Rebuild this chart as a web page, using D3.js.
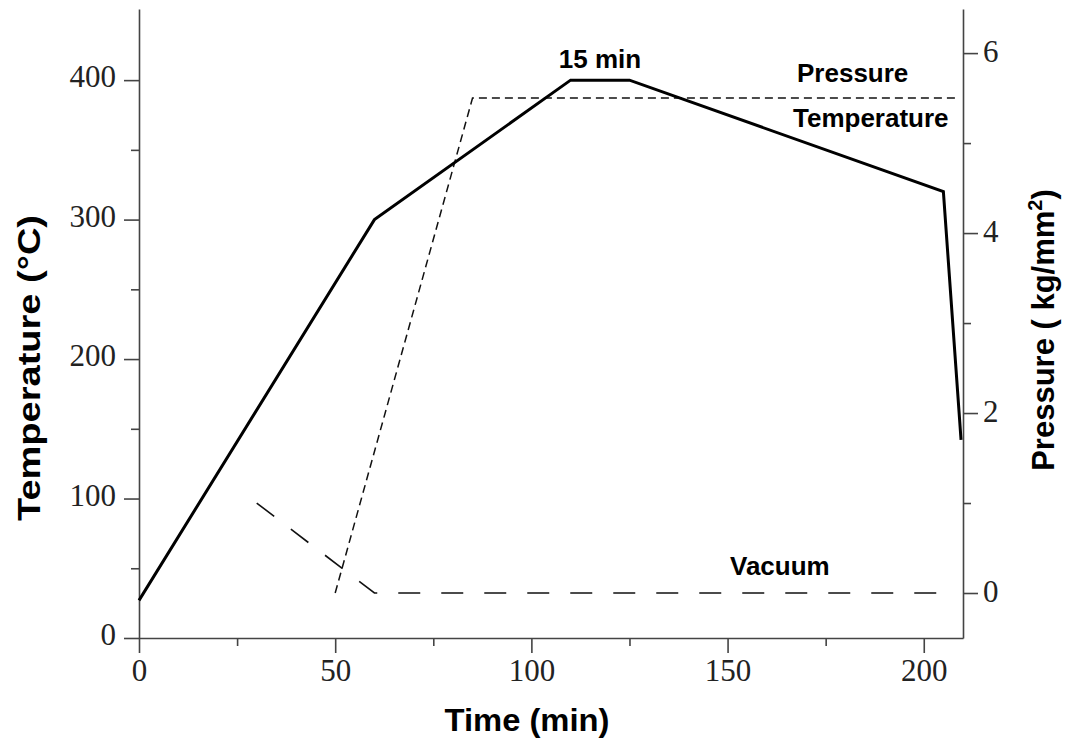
<!DOCTYPE html>
<html>
<head>
<meta charset="utf-8">
<script src="https://cdn.jsdelivr.net/npm/d3@7"></script>
<style>
  body { margin: 0; background: #fff; }
  svg { display: block; }
</style>
</head>
<body>
<svg id="chart" width="1065" height="744"></svg>
<script>
// ---- data ----
const tempTime = [0, 60, 110, 125, 205, 209.5];
const tempValue = [27, 300, 400, 400, 320, 142];
const pressTime = [50, 85, 208];
const pressValue = [0, 5.5, 5.5];
const vacTime = [30, 60, 208];
const vacValue = [1.0, 0, 0];
const xMajorTicks = [0, 50, 100, 150, 200];
const xMinorTicks = [25, 75, 125, 175];
const yMajorTicks = [0, 100, 200, 300, 400];
const yMinorTicks = [50, 150, 250, 350];
const pMajorTicks = [0, 2, 4, 6];
const pMinorTicks = [1, 3, 5];

const svg = d3.select("#chart");
const L = 139, R = 963, T = 9, B = 638;

const x = d3.scaleLinear().domain([0, 210]).range([L, R]);
const yT = d3.scaleLinear().domain([0, 451]).range([B, T]);
const yP = d3.scaleLinear().domain([-0.5, 6.49]).range([B, T]);

const axisColor = "#444";
const serif = "'Liberation Serif', 'DejaVu Serif', serif";
const sans = "'Liberation Sans', Arial, sans-serif";
const fmt = d3.format("d");

function styleAxis(g) {
  g.selectAll("path.domain").attr("stroke", axisColor).attr("stroke-width", 1.6);
  g.selectAll(".tick line").attr("stroke", axisColor).attr("stroke-width", 1.6);
  g.selectAll(".tick text").attr("font-family", serif).attr("font-size", 31).attr("fill", "#222");
}

// bottom axis
const gx = svg.append("g").attr("transform", `translate(0,${B})`)
  .call(d3.axisBottom(x).tickValues(xMajorTicks).tickFormat(fmt).tickSize(15).tickSizeOuter(0).tickPadding(6));
styleAxis(gx);
const gxm = svg.append("g").attr("transform", `translate(0,${B})`)
  .call(d3.axisBottom(x).tickValues(xMinorTicks).tickSize(8).tickFormat(""));
gxm.select("path.domain").remove();
styleAxis(gxm);

// left axis
const gy = svg.append("g").attr("transform", `translate(${L},0)`)
  .call(d3.axisLeft(yT).tickValues(yMajorTicks).tickFormat(fmt).tickSize(15).tickSizeOuter(0).tickPadding(8));
styleAxis(gy);
gy.selectAll(".tick text").attr("dy", "0.22em");
const gym = svg.append("g").attr("transform", `translate(${L},0)`)
  .call(d3.axisLeft(yT).tickValues(yMinorTicks).tickSize(8).tickFormat(""));
gym.select("path.domain").remove();
styleAxis(gym);

// right axis
const gp = svg.append("g").attr("transform", `translate(${R},0)`)
  .call(d3.axisRight(yP).tickValues(pMajorTicks).tickFormat(fmt).tickSize(15).tickSizeOuter(0).tickPadding(5));
styleAxis(gp);
gp.selectAll(".tick text").attr("dy", "0.28em");
const gpm = svg.append("g").attr("transform", `translate(${R},0)`)
  .call(d3.axisRight(yP).tickValues(pMinorTicks).tickSize(8).tickFormat(""));
gpm.select("path.domain").remove();
styleAxis(gpm);

// lines
const tempData = tempTime.map((t, i) => [t, tempValue[i]]);
const pressData = pressTime.map((t, i) => [t, pressValue[i]]);
const vacData = vacTime.map((t, i) => [t, vacValue[i]]);

const lineT = d3.line().x(d => x(d[0])).y(d => yT(d[1]));
const lineP = d3.line().x(d => x(d[0])).y(d => yP(d[1]));

svg.append("path").datum(vacData).attr("d", lineP)
  .attr("fill", "none").attr("stroke", "#111").attr("stroke-width", 1.6)
  .attr("stroke-dasharray", "22,21");

svg.append("path").datum(pressData).attr("d", lineP)
  .attr("fill", "none").attr("stroke", "#111").attr("stroke-width", 1.5)
  .attr("stroke-dasharray", "8,5");

svg.append("path").datum(tempData).attr("d", lineT)
  .attr("fill", "none").attr("stroke", "#000").attr("stroke-width", 3)
  .attr("stroke-linejoin", "miter");

// annotations
function ann(txt, xx, yy, anchor) {
  svg.append("text").attr("x", xx).attr("y", yy).attr("text-anchor", anchor || "start")
    .attr("font-family", sans).attr("font-weight", "bold").attr("font-size", 26)
    .attr("fill", "#000").text(txt);
}
ann("15 min", x(117.5), 68, "middle");
ann("Pressure", 797, 82);
ann("Temperature", 793, 127);
ann("Vacuum", 730, 575);

// axis titles
svg.append("text").attr("x", 527).attr("y", 731).attr("text-anchor", "middle")
  .attr("font-family", sans).attr("font-weight", "bold").attr("font-size", 31)
  .attr("textLength", 165).attr("lengthAdjust", "spacingAndGlyphs")
  .text("Time (min)");

svg.append("text").attr("transform", "translate(40,368) rotate(-90)")
  .attr("text-anchor", "middle")
  .attr("font-family", sans).attr("font-weight", "bold").attr("font-size", 32)
  .attr("textLength", 306).attr("lengthAdjust", "spacingAndGlyphs")
  .text("Temperature (°C)");

const pt = svg.append("text").attr("transform", "translate(1054,330) rotate(-90)")
  .attr("text-anchor", "middle")
  .attr("font-family", sans).attr("font-weight", "bold").attr("font-size", 31);
pt.append("tspan").text("Pressure ( kg/mm");
pt.append("tspan").attr("font-size", 20).attr("dy", -12).text("2");
pt.append("tspan").attr("dy", 12).text(")");
</script>
</body>
</html>
